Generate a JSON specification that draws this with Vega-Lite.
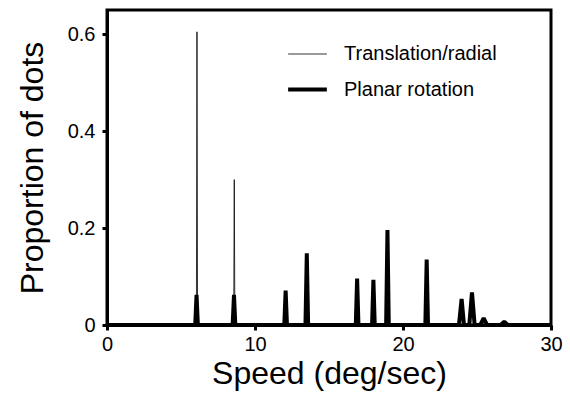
{
  "$schema": "https://vega.github.io/schema/vega-lite/v6.json",
  "autosize": "none",
  "width": 444,
  "height": 315,
  "padding": {"left": 107, "top": 10, "right": 19, "bottom": 68},
  "background": "white",
  "config": {
    "font": "Liberation Sans",
    "view": {"stroke": "black", "strokeWidth": 3},
    "axis": {
      "domainColor": "black", "domainWidth": 3,
      "tickColor": "black", "tickWidth": 3, "tickSize": 5,
      "labelColor": "black", "labelFontSize": 20, "labelFont": "Liberation Sans",
      "titleColor": "black", "titleFontSize": 32, "titleFontWeight": "normal", "titleFont": "Liberation Sans",
      "grid": false
    }
  },
  "data": {
    "values": [
      {"series": "Translation/radial", "speed": 0, "prop": 0},
      {"series": "Translation/radial", "speed": 6.04, "prop": 0},
      {"series": "Translation/radial", "speed": 6.08, "prop": 0.605},
      {"series": "Translation/radial", "speed": 6.12, "prop": 0},
      {"series": "Translation/radial", "speed": 8.56, "prop": 0},
      {"series": "Translation/radial", "speed": 8.6, "prop": 0.3},
      {"series": "Translation/radial", "speed": 8.64, "prop": 0},
      {"series": "Translation/radial", "speed": 30, "prop": 0},
      {"series": "Planar rotation", "speed": 0, "prop": 0},
      {"series": "Planar rotation", "speed": 5.96, "prop": 0},
      {"series": "Planar rotation", "speed": 6.05, "prop": 0.062},
      {"series": "Planar rotation", "speed": 6.14, "prop": 0},
      {"series": "Planar rotation", "speed": 8.49, "prop": 0},
      {"series": "Planar rotation", "speed": 8.58, "prop": 0.062},
      {"series": "Planar rotation", "speed": 8.67, "prop": 0},
      {"series": "Planar rotation", "speed": 11.98, "prop": 0},
      {"series": "Planar rotation", "speed": 12.07, "prop": 0.071},
      {"series": "Planar rotation", "speed": 12.16, "prop": 0},
      {"series": "Planar rotation", "speed": 13.41, "prop": 0},
      {"series": "Planar rotation", "speed": 13.5, "prop": 0.148},
      {"series": "Planar rotation", "speed": 13.59, "prop": 0},
      {"series": "Planar rotation", "speed": 16.81, "prop": 0},
      {"series": "Planar rotation", "speed": 16.9, "prop": 0.096},
      {"series": "Planar rotation", "speed": 16.99, "prop": 0},
      {"series": "Planar rotation", "speed": 17.91, "prop": 0},
      {"series": "Planar rotation", "speed": 18.0, "prop": 0.093},
      {"series": "Planar rotation", "speed": 18.09, "prop": 0},
      {"series": "Planar rotation", "speed": 18.86, "prop": 0},
      {"series": "Planar rotation", "speed": 18.95, "prop": 0.196},
      {"series": "Planar rotation", "speed": 19.04, "prop": 0},
      {"series": "Planar rotation", "speed": 21.51, "prop": 0},
      {"series": "Planar rotation", "speed": 21.6, "prop": 0.135},
      {"series": "Planar rotation", "speed": 21.69, "prop": 0},
      {"series": "Planar rotation", "speed": 23.78, "prop": 0},
      {"series": "Planar rotation", "speed": 23.96, "prop": 0.054},
      {"series": "Planar rotation", "speed": 24.12, "prop": 0},
      {"series": "Planar rotation", "speed": 24.48, "prop": 0},
      {"series": "Planar rotation", "speed": 24.66, "prop": 0.067},
      {"series": "Planar rotation", "speed": 24.84, "prop": 0},
      {"series": "Planar rotation", "speed": 25.22, "prop": 0},
      {"series": "Planar rotation", "speed": 25.45, "prop": 0.014},
      {"series": "Planar rotation", "speed": 25.68, "prop": 0},
      {"series": "Planar rotation", "speed": 26.6, "prop": 0},
      {"series": "Planar rotation", "speed": 26.84, "prop": 0.007},
      {"series": "Planar rotation", "speed": 27.08, "prop": 0},
      {"series": "Planar rotation", "speed": 30, "prop": 0}
    ]
  },
  "mark": {"type": "line", "color": "black", "strokeJoin": "bevel", "clip": true},
  "encoding": {
    "x": {
      "field": "speed", "type": "quantitative",
      "scale": {"domain": [0, 30], "nice": false, "zero": false},
      "axis": {"values": [0, 10, 20, 30], "title": "Speed (deg/sec)", "labelPadding": 4, "titlePadding": 4, "labelFlush": false}
    },
    "y": {
      "field": "prop", "type": "quantitative",
      "scale": {"domain": [0, 0.65], "nice": false},
      "axis": {"values": [0, 0.2, 0.4, 0.6], "title": "Proportion of dots", "labelPadding": 7, "titlePadding": 18, "labelFlush": false,
        "labelExpr": "datum.value == 0 ? '0' : format(datum.value, '.1f')"}
    },
    "detail": {"field": "series"},
    "strokeWidth": {
      "field": "series", "type": "ordinal",
      "scale": {"domain": ["Translation/radial", "Planar rotation"], "range": [0.8, 4]},
      "legend": {
        "title": null, "orient": "none", "legendX": 179, "legendY": 24,
        "symbolType": "stroke", "symbolSize": 1500, "symbolStrokeColor": "black",
        "labelFontSize": 20, "labelColor": "black", "labelOffset": 15, "rowPadding": 4
      }
    }
  }
}
